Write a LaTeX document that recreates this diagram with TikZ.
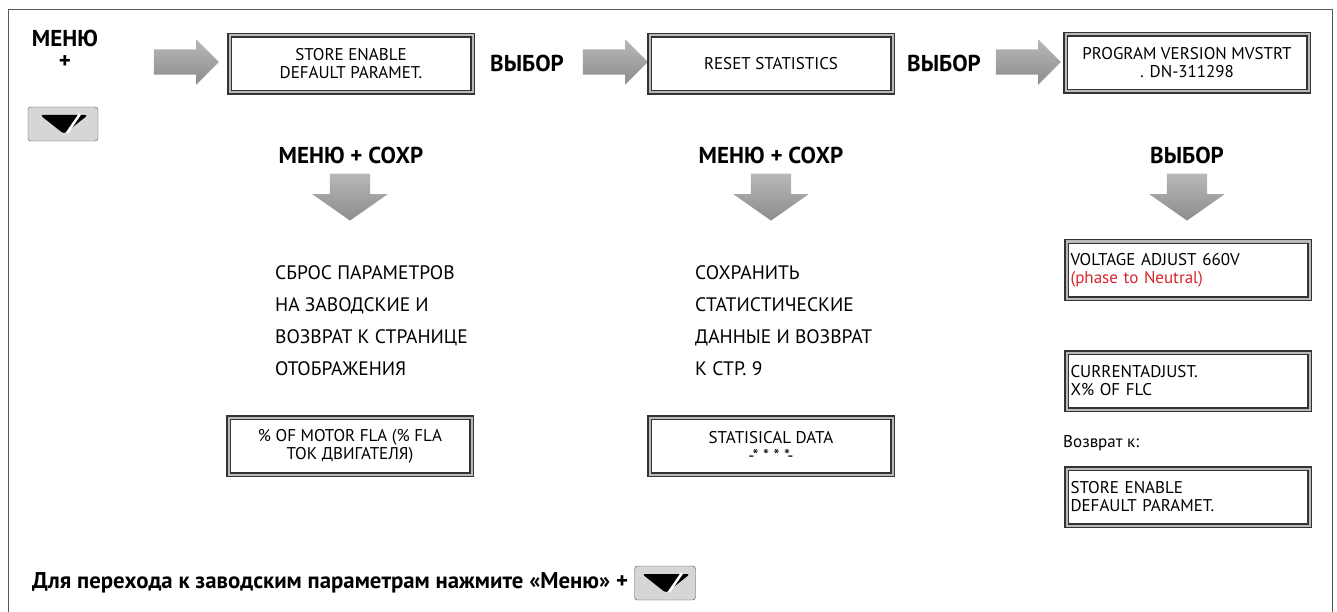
\documentclass[tikz,border=0pt]{standalone}
\usepackage{fontspec}
\setmainfont{PT Sans}
\usetikzlibrary{positioning, shapes.arrows, calc}
\definecolor{Frame}{HTML}{5A5A5A}
\definecolor{ArrowGray}{HTML}{8C8C8C}
\definecolor{ArrowTop}{HTML}{B8B8B8}
\definecolor{KeyGray}{HTML}{D6D6D6}
\definecolor{Phase}{HTML}{D9262E}

\begin{document}
\begin{tikzpicture}[
    x=1pt, y=-1pt,
    lcd/.style={draw=black!80, double=gray!55, double distance=2pt, line width=1.4pt, fill=white,
        minimum width=243pt, minimum height=57pt, align=center, inner sep=4pt,
        font=\fontsize{17}{18}\selectfont},
    lcdl/.style={lcd, align=left, text width=235pt},
    head/.style={font=\fontsize{23}{25}\selectfont\bfseries},
    note/.style={font=\fontsize{19.5}{32}\selectfont, align=left, anchor=north west, inner sep=0pt},
    rarr/.style={single arrow, top color=ArrowTop, bottom color=ArrowGray, draw=none,
        minimum height=65pt, inner xsep=0pt, inner ysep=12.5pt, single arrow head extend=10pt},
    darr/.style={single arrow, shape border rotate=270, top color=ArrowTop, bottom color=ArrowGray,
        draw=none, minimum height=47pt, inner xsep=20pt, inner ysep=0pt,
        single arrow head extend=17.5pt, single arrow tip angle=110},
    key/.style={draw=black!70, fill=KeyGray, rounded corners=3pt, minimum width=70pt,
        minimum height=34pt, inner sep=0pt,
        path picture={
            \coordinate (kc) at (path picture bounding box.center);
            \fill[black] ($(kc)+(-23,-9)$) -- ($(kc)+(25,-9)$) -- ($(kc)+(1,10)$) -- cycle;
            \draw[white, line width=2.5pt] ($(kc)+(4,9)$) -- ($(kc)+(17,-10)$);
        }}
]
\useasboundingbox (0,0) rectangle (1337,612);

% Frame
\draw[Frame, line width=1pt] (8,612) |- (1332,10) -- (1332,612);

% Menu + key
\node[head] (menu) at (65,38) {МЕНЮ};
\node[head] (plus) at (65,62) {+};
\node[key] (key) at (63,124) {};

% Top row
\node[rarr] (r1) at (180,62) {};
\node[lcd] (store) at (351,64) {STORE ENABLE\\DEFAULT PARAMET.};
\node[head] (sel1) at (527,63) {ВЫБОР};
\node[rarr] (r2) at (609,62) {};
\node[lcd] (reset) at (771,64) {RESET STATISTICS};
\node[head] (sel2) at (944,63) {ВЫБОР};
\node[rarr] (r3) at (1022,62) {};
\node[lcd] (version) at (1187,63) {PROGRAM VERSION MVSTRT\\. DN-311298};

% Second row
\node[head] (save1) at (351,155) {МЕНЮ + СОХР};
\node[head] (save2) at (771,155) {МЕНЮ + СОХР};
\node[head] (sel3) at (1187,155) {ВЫБОР};
\node[darr] (d1) at (350,190) {};
\node[darr] (d2) at (771,190) {};
\node[darr] (d3) at (1187,190) {};

% Left column
\node[note] (reset note) at (275,265) {СБРОС ПАРАМЕТРОВ\\НА ЗАВОДСКИЕ И\\ВОЗВРАТ К СТРАНИЦЕ\\ОТОБРАЖЕНИЯ};
\node[lcd] (fla) at (350,446) {\% OF MOTOR FLA (\% FLA\\ТОК ДВИГАТЕЛЯ)};

% Middle column
\node[note] (save note) at (695,265) {СОХРАНИТЬ\\СТАТИСТИЧЕСКИЕ\\ДАННЫЕ И ВОЗВРАТ\\К СТР. 9};
\node[lcd] (stat) at (771,446) {STATISICAL DATA\\-* * * *-};

% Right column
\node[lcdl] (voltage) at (1188,270) {VOLTAGE ADJUST 660V\\\textcolor{Phase}{(phase to Neutral)}};
\node[lcdl] (current) at (1188,381) {CURRENTADJUST.\\X\% OF FLC};
\node[anchor=west, font=\fontsize{17}{18}\selectfont, inner sep=0pt] (back) at (1063,443) {Возврат к:};
\node[lcdl] (store back) at (1188,497) {STORE ENABLE\\DEFAULT PARAMET.};

% Footer
\node[anchor=west, font=\fontsize{22.8}{24}\selectfont\bfseries, inner sep=0pt] (hint) at (32,583)
    {Для перехода к заводским параметрам нажмите «Меню» +};
\node[key, minimum width=61pt, right=6pt of hint] (key2) {};

\end{tikzpicture}
\end{document}
